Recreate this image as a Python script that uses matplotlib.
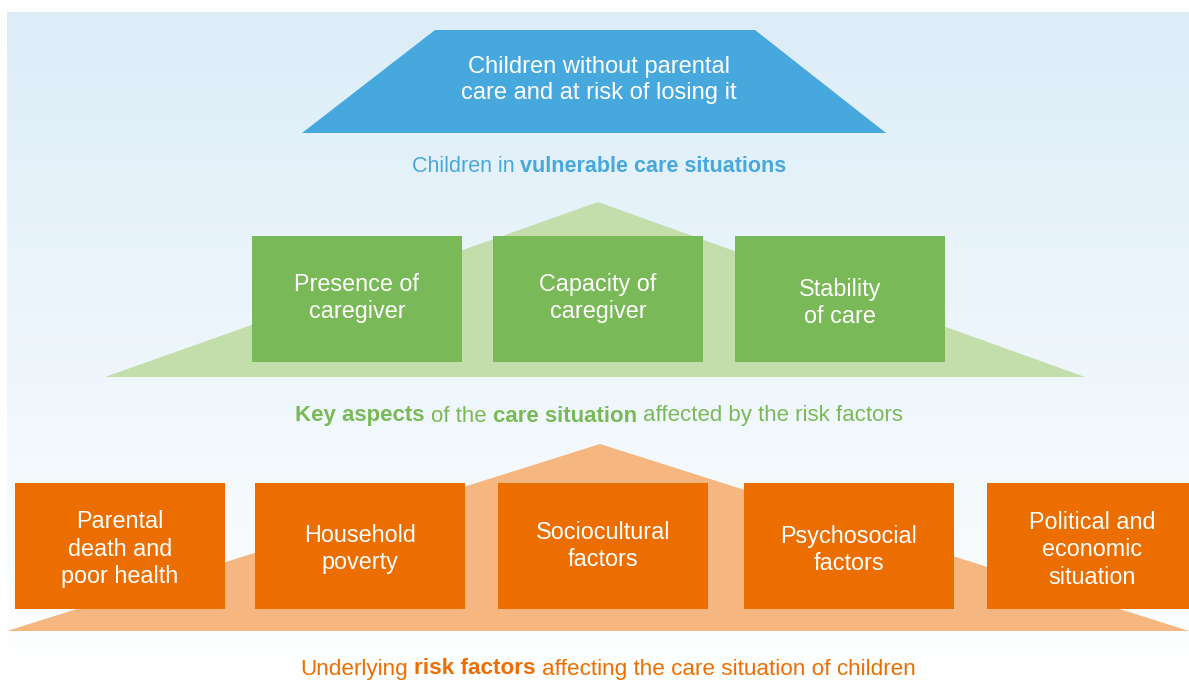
#!/usr/bin/env python3
"""
Diagram: children in vulnerable care situations, the key aspects of the
care situation and the underlying risk factors.
"""

import numpy as np
import matplotlib
matplotlib.use("Agg")
import matplotlib.pyplot as plt
from matplotlib.patches import Polygon, Rectangle

plt.rcParams['font.family'] = ['Liberation Sans', 'DejaVu Sans']

# ---- content -------------------------------------------------------------
top_label = "Children without parental\ncare and at risk of losing it"
top_caption = [("Children in", "normal"), ("vulnerable care situations", "bold")]

aspect_labels = ["Presence of\ncaregiver", "Capacity of\ncaregiver", "Stability\nof care"]
aspect_caption = [("Key aspects", "bold"), ("of the", "normal"),
                  ("care situation", "bold"),
                  ("affected by the risk factors", "normal")]

risk_labels = ["Parental\ndeath and\npoor health", "Household\npoverty",
               "Sociocultural\nfactors", "Psychosocial\nfactors",
               "Political and\neconomic\nsituation"]
risk_caption = [("Underlying", "normal"), ("risk factors", "bold"),
                ("affecting the care situation of children", "normal")]

# ---- colours -------------------------------------------------------------
blue = "#47A8DE"
green = "#7AB958"
green_light = "#C3DEAA"
orange = "#EC6E00"
orange_light = "#F5B77F"

# ---- layout (pixel units, y down) ----------------------------------------
W, H = 1189, 681
box_w, box_h = 210, 126
aspect_x = [252, 493, 735]
aspect_y = 236
aspect_text_y = [298, 298, 303]
risk_x = [15, 255, 498, 744, 987]
risk_y = 483
risk_text_y = [549, 549, 546, 550, 550]
box_font = 16.8
box_spacing = 1.24

fig = plt.figure(figsize=(W / 100, H / 100), dpi=100)
ax = fig.add_axes([0, 0, 1, 1])
ax.set_xlim(0, W)
ax.set_ylim(H, 0)
ax.axis('off')

# background panel with vertical gradient
top_c = np.array([220, 237, 248]) / 255
bot_c = np.array([255, 255, 255]) / 255
t = np.linspace(0, 1, 256)[:, None]
grad = (top_c * (1 - t) + bot_c * t)[:, None, :]
ax.imshow(grad, extent=[7, W, H, 12], aspect='auto', zorder=0)

# top trapezoid
ax.add_patch(Polygon([(302, 133), (435, 30), (755, 30), (886, 133)],
                     closed=True, fc=blue, ec='none', zorder=1))
ax.text(599, 80, top_label, color='white', fontsize=17, ha='center',
        va='center', linespacing=box_spacing, zorder=3)

# green roof and boxes
ax.add_patch(Polygon([(105, 377), (598, 202), (1085, 377)],
                     closed=True, fc=green_light, ec='none', zorder=1))
for x0, ty, lab in zip(aspect_x, aspect_text_y, aspect_labels):
    ax.add_patch(Rectangle((x0, aspect_y), box_w, box_h, fc=green,
                           ec='none', zorder=2))
    ax.text(x0 + box_w / 2, ty, lab, color='white',
            fontsize=box_font, ha='center', va='center',
            linespacing=box_spacing, zorder=3)

# orange roof and boxes
ax.add_patch(Polygon([(7, 631), (600, 444), (W, 631)],
                     closed=True, fc=orange_light, ec='none', zorder=1))
for x0, ty, lab in zip(risk_x, risk_text_y, risk_labels):
    ax.add_patch(Rectangle((x0, risk_y), box_w, box_h, fc=orange,
                           ec='none', zorder=2))
    ax.text(x0 + box_w / 2, ty, lab, color='white',
            fontsize=box_font, ha='center', va='center',
            linespacing=box_spacing, zorder=3)


def rich_caption(xc, y, parts, color, size):
    """Centre a line made of regular and bold pieces at (xc, y)."""
    r = fig.canvas.get_renderer()
    probe1 = ax.text(0, 0, "x x", fontsize=size)
    probe2 = ax.text(0, 0, "xx", fontsize=size)
    space = (probe1.get_window_extent(r).width
             - probe2.get_window_extent(r).width)
    probe1.remove()
    probe2.remove()
    texts = [ax.text(0, y, s, weight=w, color=color, fontsize=size,
                     ha='left', va='center', zorder=3) for s, w in parts]
    widths = [tx.get_window_extent(r).width for tx in texts]
    total = sum(widths) + space * (len(texts) - 1)
    cur = xc - total / 2
    for tx, w in zip(texts, widths):
        tx.set_x(cur)
        cur += w + space


rich_caption(599, 166, top_caption, blue, 15.5)
rich_caption(599, 416, aspect_caption, green, 16)
rich_caption(608, 669, risk_caption, orange, 16.2)

fig.savefig("out.png", dpi=100)
